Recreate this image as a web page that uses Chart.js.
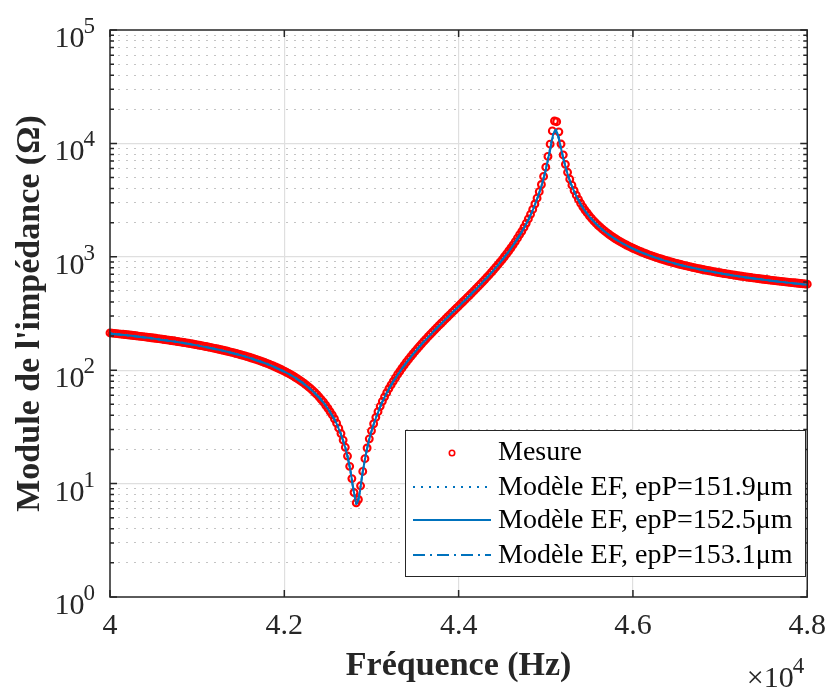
<!DOCTYPE html>
<html>
<head>
<meta charset="utf-8">
<script src="https://cdn.jsdelivr.net/npm/chart.js@4.4.1/dist/chart.umd.min.js"></script>
<style>
html,body{margin:0;padding:0;background:#ffffff;}
canvas{display:block;}
</style>
</head>
<body>
<canvas id="c" width="837" height="689"></canvas>
<script>
// ---------------- DATA ----------------
const seriesNames = ['Mesure', 'Modèle EF, epP=151.9μm', 'Modèle EF, epP=152.5μm', 'Modèle EF, epP=153.1μm'];

const freqMesure = [
  40000, 40025, 40050, 40075, 40100, 40125, 40150, 40175, 40200, 40225, 40250, 40275, 40300, 40325, 40350, 40375, 40400, 40425, 40450, 40475,
  40500, 40525, 40550, 40575, 40600, 40625, 40650, 40675, 40700, 40725, 40750, 40775, 40800, 40825, 40850, 40875, 40900, 40925, 40950, 40975,
  41000, 41025, 41050, 41075, 41100, 41125, 41150, 41175, 41200, 41225, 41250, 41275, 41300, 41325, 41350, 41375, 41400, 41425, 41450, 41475,
  41500, 41525, 41550, 41575, 41600, 41625, 41650, 41675, 41700, 41725, 41750, 41775, 41800, 41825, 41850, 41875, 41900, 41925, 41950, 41975,
  42000, 42025, 42050, 42075, 42100, 42125, 42150, 42175, 42200, 42225, 42250, 42275, 42300, 42325, 42350, 42375, 42400, 42425, 42450, 42475,
  42500, 42525, 42550, 42575, 42600, 42625, 42650, 42675, 42700, 42725, 42750, 42775, 42800, 42825, 42850, 42875, 42900, 42925, 42950, 42975,
  43000, 43025, 43050, 43075, 43100, 43125, 43150, 43175, 43200, 43225, 43250, 43275, 43300, 43325, 43350, 43375, 43400, 43425, 43450, 43475,
  43500, 43525, 43550, 43575, 43600, 43625, 43650, 43675, 43700, 43725, 43750, 43775, 43800, 43825, 43850, 43875, 43900, 43925, 43950, 43975,
  44000, 44025, 44050, 44075, 44100, 44125, 44150, 44175, 44200, 44225, 44250, 44275, 44300, 44325, 44350, 44375, 44400, 44425, 44450, 44475,
  44500, 44525, 44550, 44575, 44600, 44625, 44650, 44675, 44700, 44725, 44750, 44775, 44800, 44825, 44850, 44875, 44900, 44925, 44950, 44975,
  45000, 45025, 45050, 45075, 45100, 45125, 45150, 45175, 45200, 45225, 45250, 45275, 45300, 45325, 45350, 45375, 45400, 45425, 45450, 45475,
  45500, 45525, 45550, 45575, 45600, 45625, 45650, 45675, 45700, 45725, 45750, 45775, 45800, 45825, 45850, 45875, 45900, 45925, 45950, 45975,
  46000, 46025, 46050, 46075, 46100, 46125, 46150, 46175, 46200, 46225, 46250, 46275, 46300, 46325, 46350, 46375, 46400, 46425, 46450, 46475,
  46500, 46525, 46550, 46575, 46600, 46625, 46650, 46675, 46700, 46725, 46750, 46775, 46800, 46825, 46850, 46875, 46900, 46925, 46950, 46975,
  47000, 47025, 47050, 47075, 47100, 47125, 47150, 47175, 47200, 47225, 47250, 47275, 47300, 47325, 47350, 47375, 47400, 47425, 47450, 47475,
  47500, 47525, 47550, 47575, 47600, 47625, 47650, 47675, 47700, 47725, 47750, 47775, 47800, 47825, 47850, 47875, 47900, 47925, 47950, 47975,
  48000
];
const zMesure = [
  213.1, 212.2, 211.2, 210.2, 209.2, 208.2, 207.2, 206.2, 205.1, 204.1, 203.1, 202.1, 201.0, 199.9, 198.8, 197.7, 196.6, 195.5, 194.4, 193.3,
  192.2, 191.1, 189.9, 188.8, 187.6, 186.4, 185.2, 184.0, 182.8, 181.6, 180.3, 179.1, 177.8, 176.6, 175.3, 174.0, 172.7, 171.4, 170.0, 168.7,
  167.3, 166.0, 164.6, 163.2, 161.8, 160.4, 158.9, 157.4, 155.9, 154.4, 152.9, 151.4, 149.9, 148.4, 146.8, 145.2, 143.5, 141.9, 140.3, 138.6,
  136.9, 135.2, 133.5, 131.7, 129.9, 128.1, 126.3, 124.5, 122.6, 120.7, 118.8, 116.9, 114.9, 112.9, 110.9, 108.8, 106.7, 104.6, 102.5, 100.3,
  98.1, 95.8, 93.6, 91.3, 89.0, 86.6, 84.3, 81.8, 79.3, 76.8, 74.3, 71.6, 69.0, 66.3, 63.6, 60.8, 58.0, 55.0, 52.2, 49.1,
  46.2, 43.2, 40.4, 37.3, 34.1, 30.8, 27.6, 24.2, 20.9, 17.5, 14.2, 11.07, 8.35, 6.77, 7.24, 9.56, 12.8, 16.6, 20.6, 24.8,
  29.2, 33.7, 38.4, 43.1, 48.0, 53.1, 58.2, 63.3, 68.9, 74.2, 79.8, 85.5, 91.7, 97.8, 104.3, 110.8, 117.6, 124.5, 131.7, 139.0,
  146.6, 154.4, 162.5, 170.7, 179.3, 188.1, 197.4, 206.8, 216.6, 226.7, 237.2, 248.1, 259.4, 271.1, 283.4, 296.0, 309.2, 322.9, 337.3, 352.3,
  367.9, 384.2, 401.3, 419.3, 438.0, 457.8, 478.4, 500.3, 523.3, 547.7, 573.3, 600.7, 629.5, 660.5, 693.0, 728.3, 765.4, 806.0, 848.7, 895.9,
  945.7, 1001, 1060, 1125, 1196, 1275, 1362, 1460, 1569, 1679, 1816, 1974, 2156, 2368, 2619, 2922, 3291, 3754, 4340, 5118,
  6176, 7679, 9845, 12888, 15764, 15534, 12646, 9873, 7908, 6537, 5560, 4833, 4280, 3842, 3494, 3204, 2962, 2758, 2583, 2436,
  2298, 2183, 2074, 1984, 1898, 1824, 1753, 1692, 1633, 1581, 1530, 1486, 1443, 1404, 1367, 1333, 1301, 1271, 1242, 1215,
  1190, 1167, 1144, 1122, 1101, 1082, 1064, 1046, 1029, 1013, 998, 983, 969, 956, 943, 930, 918, 906, 895, 884,
  874, 864, 854, 845, 836, 827, 819, 810, 802, 794, 787, 780, 773, 766, 759, 753, 747, 740, 734, 728,
  723, 717, 712, 707, 702, 697, 692, 687, 682, 677, 673, 668, 664, 660, 656, 652, 648, 644, 641, 637,
  634, 630, 627, 623, 620, 616, 613, 610, 607, 604, 601, 598, 595, 592, 590, 587, 584, 581, 579, 576,
  574
];

const freqModele = [
  40000, 40250, 40500, 40750, 41000, 41250, 41500, 41750, 42000,
  42200, 42400, 42500, 42600, 42700, 42750, 42800,
  42830, 42860, 42900, 42950, 43000,
  43100, 43200, 43300, 43400, 43550, 43700, 43850, 44000,
  44200, 44400, 44600, 44750, 44850, 44950,
  45000, 45050, 45080, 45110, 45140, 45170, 45200,
  45250, 45300, 45400, 45500, 45650, 45800,
  46000, 46250, 46500, 46750, 47000, 47250, 47500, 47750, 48000
];
const zModele1519 = [
  212, 202, 191, 179.4, 166.4, 152.2, 136.2, 118.2, 97.6,
  78.9, 57.7, 45.9, 34.0, 20.8, 14.2, 8.4,
  6.5, 7.8, 12.6, 20.3, 28.8,
  47.3, 68.0, 90.5, 116.0, 160.3, 213.6, 279.5, 362.8,
  516, 755, 1180, 1785, 2565, 4230,
  5950, 9100, 11900, 13500, 11950, 9350, 7380,
  5340, 4160, 2905, 2260, 1732, 1427,
  1177, 988, 866, 780, 718, 668, 630, 597, 570
];
const zModele1525 = [
  211, 201, 190, 178.5, 165.6, 151.4, 135.5, 117.6, 97.1,
  78.5, 57.4, 45.7, 33.8, 20.7, 14.1, 8.3,
  6.6, 7.9, 12.7, 20.4, 28.9,
  47.5, 68.2, 90.8, 116.4, 160.9, 214.4, 280.6, 364.2,
  518, 758, 1184, 1791, 2572, 4213,
  5886, 8924, 11520, 13100, 11820, 9395, 7427,
  5365, 4176, 2914, 2266, 1735, 1429,
  1178, 988, 865, 779, 716, 666, 628, 595, 568
];
const zModele1531 = [
  210, 200, 189, 177.6, 164.8, 150.6, 134.8, 117.0, 96.6,
  78.1, 57.1, 45.5, 33.6, 20.6, 14.0, 8.2,
  6.7, 8.0, 12.8, 20.5, 29.0,
  47.7, 68.4, 91.1, 116.8, 161.5, 215.2, 281.7, 365.6,
  520, 761, 1188, 1797, 2580, 4190,
  5820, 8750, 11150, 12700, 11700, 9430, 7470,
  5390, 4190, 2923, 2272, 1738, 1431,
  1179, 988, 864, 778, 714, 664, 626, 593, 566
];

const xRange = [40000, 48000];
const xStep = 2000;
const yRange = [1, 100000];
const xScaleExponent = 4;

// ---------------- STYLE ----------------
const FONT = "'Liberation Serif', 'Times New Roman', Times, serif";
const AX = '#262626';
const BLUE = '#0072BD';
const RED = '#FF0000';

function isPow10(v) { const e = Math.log10(v); return Math.abs(e - Math.round(e)) < 1e-9; }
function wholeSignificand(v) {
  const e = Math.floor(Math.log10(v) + 1e-9);
  const m = v / Math.pow(10, e);
  return Math.abs(m - Math.round(m)) < 1e-6;
}
const toXY = (xs, ys) => xs.map((x, i) => ({x: x, y: ys[i]}));

const decor = {
  id: 'decor',
  afterDatasetsDraw(chart) {
    const {ctx, chartArea: a} = chart;
    const x = chart.scales.x, y = chart.scales.y;
    ctx.save();
    ctx.strokeStyle = AX;
    ctx.lineWidth = 1.5;
    ctx.setLineDash([]);
    ctx.beginPath();
    y.ticks.forEach(t => {
      const py = y.getPixelForValue(t.value);
      const len = isPow10(t.value) ? 7 : 4;
      ctx.moveTo(a.left, py); ctx.lineTo(a.left + len, py);
      ctx.moveTo(a.right, py); ctx.lineTo(a.right - len, py);
    });
    x.ticks.forEach(t => {
      const px = x.getPixelForValue(t.value);
      ctx.moveTo(px, a.bottom); ctx.lineTo(px, a.bottom - 7);
      ctx.moveTo(px, a.top); ctx.lineTo(px, a.top + 7);
    });
    ctx.stroke();
    ctx.strokeRect(a.left, a.top, a.right - a.left, a.bottom - a.top);
    ctx.restore();
  },
  afterDraw(chart) {
    const {ctx, chartArea: a} = chart;
    const y = chart.scales.y;
    ctx.save();
    ctx.fillStyle = AX;
    ctx.textBaseline = 'alphabetic';
    ctx.textAlign = 'right';
    // y tick labels 10^n
    y.ticks.filter(t => isPow10(t.value)).forEach(t => {
      const py = y.getPixelForValue(t.value);
      const e = String(Math.round(Math.log10(t.value)));
      const right = a.left - 15;
      ctx.font = '23px ' + FONT;
      const ew = ctx.measureText(e).width;
      ctx.fillText(e, right, py + 3);
      ctx.font = '30px ' + FONT;
      ctx.fillText('10', right - ew + 1, py + 17);
    });
    // x10^4 multiplier
    ctx.font = '23px ' + FONT;
    const ew = ctx.measureText(String(xScaleExponent)).width;
    ctx.fillText(String(xScaleExponent), a.right - 3, 673);
    ctx.font = '30px ' + FONT;
    ctx.fillText('×10', a.right - 3 - ew + 1, 687);

    // legend box
    const L = {x: 405, y: 430, w: 400, h: 146, rows: [453, 488, 521, 556], s0: 413, s1: 491, tx: 498};
    ctx.fillStyle = '#ffffff';
    ctx.fillRect(L.x, L.y, L.w, L.h);
    ctx.strokeStyle = AX;
    ctx.lineWidth = 1;
    ctx.strokeRect(L.x + 0.5, L.y + 0.5, L.w, L.h);
    chart.data.datasets.forEach((ds, i) => {
      const cy = L.rows[i];
      if (ds.showLine === false) {
        ctx.setLineDash([]);
        ctx.strokeStyle = ds.pointBorderColor;
        ctx.lineWidth = 1.6;
        ctx.beginPath();
        ctx.arc((L.s0 + L.s1) / 2, cy, 2.7, 0, Math.PI * 2);
        ctx.stroke();
      } else {
        ctx.setLineDash(ds.borderDash || []);
        ctx.strokeStyle = ds.borderColor;
        ctx.lineWidth = ds.borderWidth;
        ctx.beginPath();
        ctx.moveTo(L.s0, cy - 1);
        ctx.lineTo(L.s1, cy - 1);
        ctx.stroke();
      }
      ctx.setLineDash([]);
      ctx.fillStyle = '#000000';
      ctx.font = '28px ' + FONT;
      ctx.textAlign = 'left';
      ctx.textBaseline = 'middle';
      ctx.fillText(ds.label, L.tx, cy);
    });
    ctx.restore();
  }
};

const ctx = document.getElementById('c').getContext('2d');
new Chart(ctx, {
  type: 'line',
  data: {
    datasets: [
      {
        label: seriesNames[0],
        data: toXY(freqMesure, zMesure),
        showLine: false,
        pointStyle: 'circle',
        pointRadius: 3.4,
        pointBorderWidth: 2.1,
        pointBorderColor: RED,
        pointBackgroundColor: 'rgba(0,0,0,0)',
        borderColor: RED,
        backgroundColor: 'rgba(0,0,0,0)',
        clip: false,
        order: 5
      },
      {
        label: seriesNames[1],
        data: toXY(freqModele, zModele1519),
        borderColor: BLUE, borderWidth: 2, borderDash: [2, 6],
        pointRadius: 0, fill: false, cubicInterpolationMode: 'monotone', order: 3
      },
      {
        label: seriesNames[2],
        data: toXY(freqModele, zModele1525),
        borderColor: BLUE, borderWidth: 2, borderDash: [],
        pointRadius: 0, fill: false, cubicInterpolationMode: 'monotone', order: 2
      },
      {
        label: seriesNames[3],
        data: toXY(freqModele, zModele1531),
        borderColor: BLUE, borderWidth: 2, borderDash: [12, 5, 2, 5],
        pointRadius: 0, fill: false, cubicInterpolationMode: 'monotone', order: 1
      }
    ]
  },
  options: {
    responsive: false,
    animation: false,
    devicePixelRatio: 1,
    events: [],
    layout: {padding: {left: 0, right: 21, top: 30, bottom: 0}},
    plugins: {legend: {display: false}, tooltip: {enabled: false}},
    scales: {
      x: {
        type: 'linear',
        min: xRange[0], max: xRange[1],
        ticks: {
          stepSize: xStep,
          autoSkip: false,
          maxRotation: 0,
          padding: 11,
          color: AX,
          font: {family: FONT, size: 30},
          callback: v => String(v / Math.pow(10, xScaleExponent))
        },
        grid: {
          color: c => (c.tick && (c.tick.value === xRange[0] || c.tick.value === xRange[1])) ? 'rgba(0,0,0,0)' : '#dfdfdf',
          lineWidth: 1.2,
          drawTicks: false
        },
        border: {display: false},
        title: {
          display: true, text: 'Fréquence (Hz)', color: AX,
          font: {family: FONT, size: 34, weight: 'bold'},
          padding: {top: 0, bottom: 2}
        },
        afterFit: s => { s.height = 92; }
      },
      y: {
        type: 'logarithmic',
        min: yRange[0], max: yRange[1],
        ticks: {display: false},
        afterBuildTicks: s => { s.ticks = s.ticks.filter(t => wholeSignificand(t.value)); },
        grid: {
          color: c => (c.tick && isPow10(c.tick.value) && c.tick.value !== yRange[0] && c.tick.value !== yRange[1]) ? '#dfdfdf' : 'rgba(0,0,0,0)',
          lineWidth: 1.2,
          drawTicks: false
        },
        border: {display: false},
        title: {
          display: true, text: "Module de l'impédance (Ω)", color: AX,
          font: {family: FONT, size: 34, weight: 'bold'},
          padding: {top: 10, bottom: 0}
        },
        afterFit: s => { s.width = 110; }
      },
      yMinor: {
        type: 'logarithmic',
        position: 'left',
        min: yRange[0], max: yRange[1],
        ticks: {display: false},
        afterBuildTicks: s => { s.ticks = s.ticks.filter(t => wholeSignificand(t.value)); },
        grid: {
          color: c => (c.tick && !isPow10(c.tick.value)) ? '#c4c4c4' : 'rgba(0,0,0,0)',
          lineWidth: 1,
          drawTicks: false
        },
        border: {display: false, dash: [2, 6]},
        afterFit: s => { s.width = 0; }
      }
    }
  },
  plugins: [decor]
});
</script>
</body>
</html>
